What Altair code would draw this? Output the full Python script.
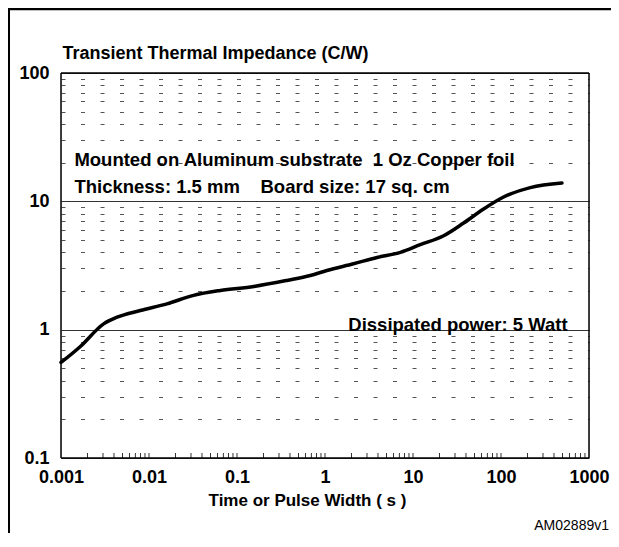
import altair as alt
import pandas as pd

# ---- data ----
time_s = [0.001, 0.00166, 0.00305, 0.00433, 0.00796, 0.016, 0.0321, 0.0646, 0.155,
          0.37, 0.68, 1.05, 2.11, 3.9, 7.2, 12.1, 22.3, 37.6, 63.4, 107, 215, 493]
zth = [0.555, 0.74, 1.11, 1.25, 1.41, 1.59, 1.85, 2.02, 2.17,
       2.42, 2.64, 2.89, 3.26, 3.65, 4.0, 4.59, 5.39, 6.77, 8.71, 10.8, 12.8, 13.9]

x_labels = [0.001, 0.01, 0.1, 1, 10, 100, 1000]
y_labels = [0.1, 1, 10, 100]
y_grid = [0.1, 0.2, 0.3, 0.4, 0.5, 0.6, 0.7, 0.8, 0.9,
          1, 2, 3, 4, 5, 6, 7, 8, 9,
          10, 20, 30, 40, 50, 60, 70, 80, 90, 100]
x_minor = [0.002, 0.003, 0.004, 0.005, 0.006, 0.007, 0.008, 0.009, 0.01,
           0.02, 0.03, 0.04, 0.05, 0.06, 0.07, 0.08, 0.09, 0.1,
           0.2, 0.3, 0.4, 0.5, 0.6, 0.7, 0.8, 0.9, 1,
           2, 3, 4, 5, 6, 7, 8, 9, 10,
           20, 30, 40, 50, 60, 70, 80, 90, 100,
           200, 300, 400, 500, 600, 700, 800, 900]

NB = "\u00a0"
note_text = ["Mounted on Aluminum substrate" + NB * 2 + "1 Oz Copper foil",
             "Thickness: 1.5 mm" + NB * 4 + "Board size: 17 sq. cm",
             "Dissipated power: 5 Watt"]
note_t = [0.00142, 0.00142, 1.84]
note_z = [18.7, 11.7, 0.985]

title_text = "Transient Thermal Impedance (C/W)"
code_label = "AM02889v1"

FONT = "Liberation Sans"
W, H = 528, 385

curve_df = pd.DataFrame({"t": time_s, "z": zth})
minor_df = pd.DataFrame({"t": x_minor})
note_df = pd.DataFrame({"label": note_text, "t": note_t, "z": note_z})

xscale = alt.Scale(type="log", domain=[0.001, 1000], nice=False)
yscale = alt.Scale(type="log", domain=[0.1, 100], nice=False)

decade_test = "indexof([0.1, 1, 10, 100], datum.value) >= 0"

x_axis = alt.Axis(
    values=x_labels, format="~g", grid=False, ticks=False, domain=False,
    labelFont=FONT, labelFontSize=18, labelFontWeight="bold", labelColor="black",
    labelPadding=10, labelFlush=False, labelOverlap=False,
    title="Time or Pulse Width ( s )", titleFont=FONT, titleFontSize=17,
    titleFontWeight="bold", titleColor="black", titlePadding=6,
    titleX=246, titleAlign="center",
)
y_axis = alt.Axis(
    values=y_grid, ticks=False, domain=False,
    labelExpr="indexof([0.1, 1, 10, 100], datum.value) >= 0 ? datum.label : ''",
    format="~g",
    labelFont=FONT, labelFontSize=18, labelFontWeight="bold", labelColor="black",
    labelPadding=12, labelOverlap=False, labelFlush=False,
    grid=True,
    gridDash={"condition": {"test": decade_test, "value": []}, "value": [4, 15.5]},
    gridColor={"condition": {"test": decade_test, "value": "#333333"}, "value": "#555555"},
    gridWidth=1, title=None,
)

line = alt.Chart(curve_df).mark_line(
    color="black", strokeWidth=3.5, interpolate="monotone", strokeCap="round"
).encode(
    x=alt.X("t:Q", scale=xscale, axis=x_axis),
    y=alt.Y("z:Q", scale=yscale, axis=y_axis),
)

minor_ticks = alt.Chart(minor_df).mark_rule(color="#333333", strokeWidth=1).encode(
    x=alt.X("t:Q", scale=xscale),
    y=alt.value(H - 5),
    y2=alt.value(H),
)

notes = alt.Chart(note_df).mark_text(
    align="left", baseline="alphabetic", font=FONT, fontSize=18.5,
    fontWeight="bold", color="black"
).encode(
    x=alt.X("t:Q", scale=xscale),
    y=alt.Y("z:Q", scale=yscale),
    text="label:N",
)

single = pd.DataFrame({"k": [0]})
box_top = alt.Chart(single).mark_rule(color="black", strokeWidth=1.5).encode(
    x=alt.value(0), x2=alt.value(W), y=alt.value(0))
box_bottom = alt.Chart(single).mark_rule(color="black", strokeWidth=1.5).encode(
    x=alt.value(0), x2=alt.value(W), y=alt.value(H))
box_left = alt.Chart(single).mark_rule(color="black", strokeWidth=1.5).encode(
    x=alt.value(0), y=alt.value(0), y2=alt.value(H))
box_right = alt.Chart(single).mark_rule(color="black", strokeWidth=1.5).encode(
    x=alt.value(W), y=alt.value(0), y2=alt.value(H))

top_line = alt.Chart(single).mark_rule(color="black", strokeWidth=2.5).encode(
    x=alt.value(-53), x2=alt.value(552), y=alt.value(-64)
)
left_line = alt.Chart(single).mark_rule(color="black", strokeWidth=2).encode(
    x=alt.value(-52), y=alt.value(-65), y2=alt.value(462)
)
title_mark = alt.Chart(pd.DataFrame({"s": [title_text]})).mark_text(
    align="left", baseline="alphabetic", font=FONT, fontSize=18,
    fontWeight="bold", color="black"
).encode(x=alt.value(1.5), y=alt.value(-14), text="s:N")
code_text = alt.Chart(pd.DataFrame({"s": [code_label]})).mark_text(
    align="right", baseline="alphabetic", font=FONT, fontSize=14, color="black"
).encode(x=alt.value(548), y=alt.value(457), text="s:N")

chart = alt.layer(
    minor_ticks, line, notes, box_top, box_bottom, box_left, box_right,
    top_line, left_line, title_mark, code_text
).properties(
    width=W, height=H,
    autosize=alt.AutoSizeParams(type="none"),
    padding={"left": 53, "top": 65, "right": 22, "bottom": 75},
).configure_view(strokeWidth=0, stroke="transparent").configure(background="white")

chart.save("out.html", embed_options={"renderer": "svg", "actions": False})
